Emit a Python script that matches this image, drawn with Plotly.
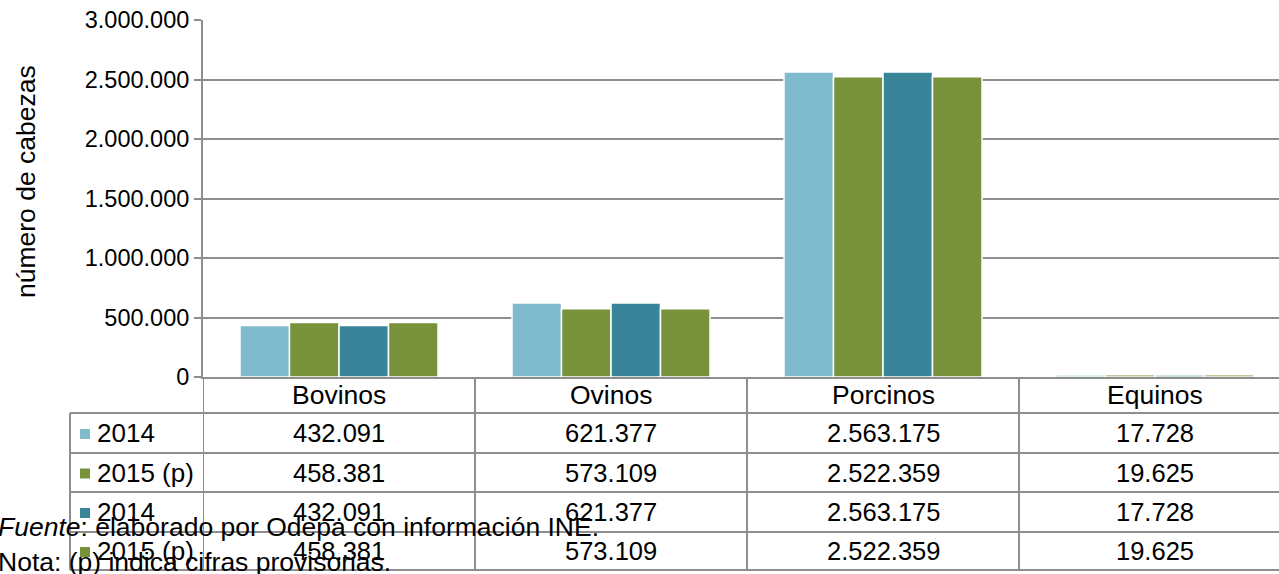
import plotly.graph_objects as go

categories = ["Bovinos", "Ovinos", "Porcinos", "Equinos"]
series_names = ["2014", "2015 (p)", "2014", "2015 (p)"]
values_2014 = [432091, 621377, 2563175, 17728]
values_2015p = [458381, 573109, 2522359, 19625]
values_2014_b = [432091, 621377, 2563175, 17728]
values_2015p_b = [458381, 573109, 2522359, 19625]
series_values = [values_2014, values_2015p, values_2014_b, values_2015p_b]
colors = ["#7FBACE", "#78923B", "#38859A", "#78923B"]
y_ticks = [0, 500000, 1000000, 1500000, 2000000, 2500000, 3000000]

W, H = 1279, 574
L, R, T, B = 203, 0, 20, 197
PW = W - L - R
PH = H - T - B
GRID = "#8E8E8E"
FONT = "Liberation Sans, Arial, sans-serif"


def px_x(x):
    return (x - L) / PW


def px_y(y):
    return (H - B - y) / PH


def fmt(v):
    return f"{v:,}".replace(",", ".")


fig = go.Figure()
for name, vals, col in zip(series_names, series_values, colors):
    fig.add_trace(go.Bar(
        x=list(range(len(categories))), y=vals, name=name,
        marker=dict(color=col, line=dict(color="white", width=1.5)),
        showlegend=False,
    ))

shapes = []
annotations = []

row_edges = [377, 413, 453, 492, 532, 570]
left_x = 70
for ry in row_edges[1:]:
    shapes.append(dict(type="line", xref="paper", yref="paper",
                       x0=px_x(left_x), x1=1.0, y0=px_y(ry), y1=px_y(ry),
                       line=dict(color=GRID, width=2)))
shapes.append(dict(type="line", xref="paper", yref="paper",
                   x0=px_x(left_x), x1=px_x(left_x), y0=px_y(413), y1=px_y(570),
                   line=dict(color=GRID, width=2)))
for xb in [-0.5, 0.5, 1.5, 2.5]:
    shapes.append(dict(type="line", xref="x", yref="paper",
                       x0=xb, x1=xb, y0=0, y1=px_y(570),
                       line=dict(color=GRID, width=2)))

hy = (row_edges[0] + row_edges[1]) / 2
for i, c in enumerate(categories):
    annotations.append(dict(x=i, y=px_y(hy), xref="x", yref="paper", text=c,
                            showarrow=False, font=dict(size=26.5, color="black", family=FONT),
                            xanchor="center", yanchor="middle"))

for r, (name, vals, col) in enumerate(zip(series_names, series_values, colors)):
    cy = (row_edges[r + 1] + row_edges[r + 2]) / 2
    shapes.append(dict(type="rect", xref="paper", yref="paper",
                       x0=px_x(80), x1=px_x(90), y0=px_y(cy - 4), y1=px_y(cy + 6),
                       fillcolor=col, line=dict(width=0)))
    annotations.append(dict(x=px_x(95), y=px_y(cy), xref="paper", yref="paper", text=name,
                            showarrow=False, font=dict(size=26, color="black", family=FONT),
                            xanchor="left", yanchor="middle"))
    for i, v in enumerate(vals):
        annotations.append(dict(x=i, y=px_y(cy), xref="x", yref="paper", text=fmt(v),
                                showarrow=False, font=dict(size=25.5, color="black", family=FONT),
                                xanchor="center", yanchor="middle"))

annotations.append(dict(x=px_x(26), y=px_y(182), xref="paper", yref="paper",
                        text="número de cabezas", textangle=-90, showarrow=False,
                        font=dict(size=26.5, color="black", family=FONT),
                        xanchor="center", yanchor="middle"))

annotations.append(dict(x=px_x(-4), y=px_y(527), xref="paper", yref="paper",
                        text="<i>Fuente</i>: elaborado por Odepa con información INE.",
                        showarrow=False, font=dict(size=26.5, color="black", family=FONT),
                        xanchor="left", yanchor="middle"))
annotations.append(dict(x=px_x(-4), y=px_y(562), xref="paper", yref="paper",
                        text="Nota: (p) indica cifras provisorias.",
                        showarrow=False, font=dict(size=26.5, color="black", family=FONT),
                        xanchor="left", yanchor="middle"))

fig.update_layout(
    width=W, height=H,
    margin=dict(l=L, r=R, t=T, b=B),
    paper_bgcolor="white", plot_bgcolor="white",
    barmode="group", bargap=0.272, bargroupgap=0,
    separators=",.",
    font=dict(family=FONT, color="black"),
    shapes=shapes, annotations=annotations,
    xaxis=dict(range=[-0.5, -0.5 + PW / 272], showticklabels=False, ticks="",
               showgrid=False, showline=True, linecolor=GRID, linewidth=2,
               zeroline=False, fixedrange=True),
    yaxis=dict(range=[0, 3000000], tickvals=y_ticks, tickformat=",d",
               showgrid=True, gridcolor=GRID, gridwidth=2,
               showline=True, linecolor=GRID, linewidth=2,
               ticks="outside", ticklen=7, tickcolor=GRID, tickwidth=2,
               tickfont=dict(size=23.5, color="black", family=FONT),
               zeroline=False, fixedrange=True),
)

fig.write_html("out.html", config={"displayModeBar": False},
               post_script="document.body.style.margin='0px';")
